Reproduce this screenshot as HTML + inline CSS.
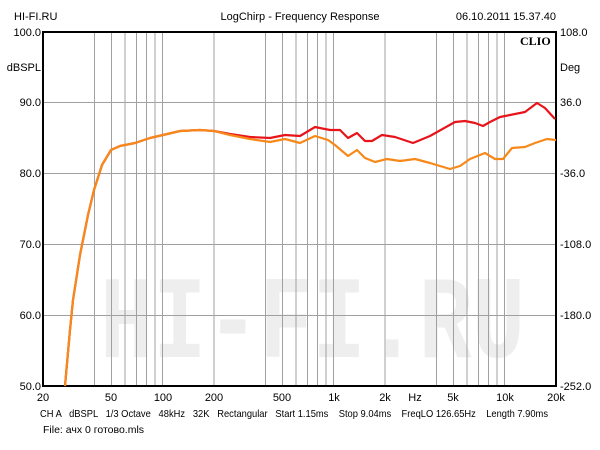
<!DOCTYPE html><html><head><style>body{margin:0;background:#fff}svg{display:block}text{font-family:"Liberation Sans",sans-serif;font-size:11px;fill:#000}</style></head><body>
<svg width="600" height="450" viewBox="0 0 600 450">
<text x="100" y="357" textLength="425" lengthAdjust="spacingAndGlyphs" style="font-size:118px;fill:#eeeeee;font-family:'Liberation Mono',monospace;font-weight:bold">HI-FI.RU</text>
<g stroke="#a0a0a0" stroke-width="1">
<line x1="94.5" y1="32" x2="94.5" y2="386"/><line x1="111.5" y1="32" x2="111.5" y2="386"/><line x1="125" y1="32" x2="125" y2="386"/><line x1="136.5" y1="32" x2="136.5" y2="386"/><line x1="146.5" y1="32" x2="146.5" y2="386"/><line x1="155" y1="32" x2="155" y2="386"/><line x1="162.5" y1="32" x2="162.5" y2="386"/>
<line x1="214" y1="32" x2="214" y2="386"/><line x1="265.5" y1="32" x2="265.5" y2="386"/><line x1="282.5" y1="32" x2="282.5" y2="386"/><line x1="296" y1="32" x2="296" y2="386"/><line x1="307.5" y1="32" x2="307.5" y2="386"/><line x1="317.5" y1="32" x2="317.5" y2="386"/><line x1="326" y1="32" x2="326" y2="386"/><line x1="333.5" y1="32" x2="333.5" y2="386"/>
<line x1="385" y1="32" x2="385" y2="386"/><line x1="436.5" y1="32" x2="436.5" y2="386"/><line x1="453.5" y1="32" x2="453.5" y2="386"/><line x1="467" y1="32" x2="467" y2="386"/><line x1="478.5" y1="32" x2="478.5" y2="386"/><line x1="488.5" y1="32" x2="488.5" y2="386"/><line x1="497" y1="32" x2="497" y2="386"/><line x1="504.5" y1="32" x2="504.5" y2="386"/>
<line x1="43" y1="102.5" x2="556" y2="102.5"/><line x1="43" y1="173.5" x2="556" y2="173.5"/><line x1="43" y1="244.5" x2="556" y2="244.5"/><line x1="43" y1="315.5" x2="556" y2="315.5"/>
</g>
<rect x="43" y="32" width="513" height="354" fill="none" stroke="#000" stroke-width="2"/>
<path d="M65,386 L70,330 L73,300 L80,255 L88,215 L94,190 L102,165 L111,150 L120,146 L135,143 L150,138 L163,135 L180,131 L200,130 L214,131 L230,134 L250,137 L270,138 L285,135 L300,136 L315,127 L330,130 L340,130 L348,138 L357,133 L365,141 L372,141 L382,135 L395,137 L413,143 L430,136 L455,122 L465,121 L475,123 L483,126 L490,122 L500,117 L510,115 L525,112 L537,103 L545,108 L555,119" fill="none" stroke="#e8141a" stroke-width="2.2" stroke-linejoin="round"/>
<path d="M65,386 L70,330 L73,300 L80,255 L88,215 L94,190 L102,165 L111,150 L120,146 L135,143 L150,138 L163,135 L180,131 L200,130 L214,131 L230,135 L250,139 L270,142 L285,139 L300,143 L315,136 L328,140 L335,145 L348,156 L357,150 L365,158 L375,162 L387,159 L400,161 L415,159 L430,163 L450,169 L460,166 L470,159 L485,153 L495,159 L503,159 L512,148 L525,147 L535,143 L547,139 L556,140" fill="none" stroke="#f7891a" stroke-width="2.2" stroke-linejoin="round"/>
<text x="14" y="20">HI-FI.RU</text><text x="300" y="20" text-anchor="middle">LogChirp - Frequency Response</text><text x="556" y="20" text-anchor="end">06.10.2011 15.37.40</text>
<text x="520" y="45" style="font-family:'Liberation Serif',serif;font-weight:bold;font-size:12px">CLIO</text>
<g text-anchor="end"><text x="41" y="36">100.0</text><text x="41" y="71">dBSPL</text><text x="41" y="106">90.0</text><text x="41" y="177">80.0</text><text x="41" y="248">70.0</text><text x="41" y="319">60.0</text><text x="41" y="390">50.0</text></g>
<g><text x="560" y="36">108.0</text><text x="560" y="71">Deg</text><text x="560" y="106">36.0</text><text x="560" y="177">-36.0</text><text x="560" y="248">-108.0</text><text x="560" y="319">-180.0</text><text x="560" y="390">-252.0</text></g>
<g text-anchor="middle"><text x="43" y="401">20</text><text x="111" y="401">50</text><text x="163" y="401">100</text><text x="214" y="401">200</text><text x="282" y="401">500</text><text x="334" y="401">1k</text><text x="385" y="401">2k</text><text x="415" y="401">Hz</text><text x="453" y="401">5k</text><text x="505" y="401">10k</text><text x="556" y="401">20k</text></g>
<text x="40" y="417" textLength="508" lengthAdjust="spacingAndGlyphs" style="font-size:10.5px" xml:space="preserve">CH A   dBSPL   1/3 Octave   48kHz   32K   Rectangular   Start 1.15ms    Stop 9.04ms    FreqLO 126.65Hz    Length 7.90ms</text>
<text x="43" y="433" style="font-size:10.5px">File: ачх 0 готово.mls</text>
</svg></body></html>
